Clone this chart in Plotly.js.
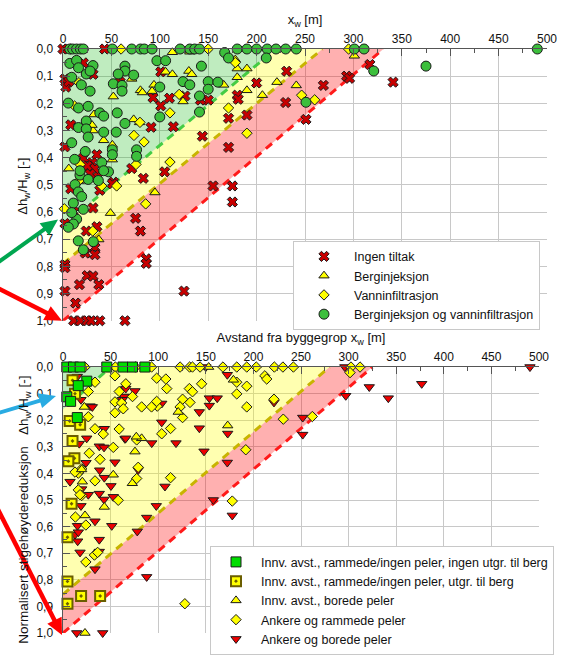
<!DOCTYPE html>
<html><head><meta charset="utf-8">
<script src="https://cdn.plot.ly/plotly-3.0.1.min.js"></script>
<style>html,body{margin:0;padding:0;background:#fff}#chart{width:565px;height:659px}</style>
</head><body><div id="chart"></div>
<script>
// ---------- TOP CHART DATA ----------
const topNoneX = [0,5,43,21,31,2,4,3,6,59,101,110,101,93,126,150,142,180,181,190,171,144,171,200,231,230,114,91,8,269,251,293,296,317,341,2,35,30,36,71,83,105,52,21,26,38,8,51,155,175,175,31,11,2,24,35,75,80,33,33,23,86,86,2,2,25,31,17,37,2,125,13,11,18,25,29,38,64,25,33,28];
const topNoneY = [0,0,0,0.051,0.093,0.11,0.125,0.14,0.12,0.122,0.084,0.181,0.209,0.179,0.173,0.188,0.188,0.17,0.185,0.243,0.255,0.321,0.362,0.125,0.082,0.197,0.286,0.288,0.279,0.134,0.259,0.1,0.108,0.057,0.122,0.36,0.389,0.419,0.454,0.44,0.476,0.452,0.49,0.401,0.431,0.52,0.514,0.496,0.504,0.504,0.563,0.585,0.599,0.642,0.67,0.654,0.623,0.67,0.731,0.757,0.751,0.772,0.789,0.793,0.805,0.834,0.836,0.867,0.867,0.891,0.891,0.935,1,1,1,1,1,1,0.43,0.44,0.46];

const topBergX = [113,131,106,113,130,133,178,180,190,180,166,221,241,206,190,124,71,80,82,94,92,52,73,79,32,31,42,51,6,51,301,95,49,37,17,30];
const topBergY = [0.012,0.01,0.084,0.093,0.081,0.093,0.039,0.072,0.072,0.104,0.132,0.122,0.134,0.17,0.152,0.193,0.11,0.152,0.16,0.132,0.155,0.175,0.259,0.27,0.241,0.3,0.336,0.353,0.44,0.407,0.025,0.528,0.604,0.701,0.486,0.28];

const topVannX = [60,150,295,16.5,12,110.5,171,190,83.7,73.3,110.5,120,246.5,260,1.4,17.6,40,55.4,75.4,85.4,30.7,16.8,79.5,178];
const topVannY = [0,0,0,0.124,0.21,0.235,0.217,0.31,0.342,0.318,0.416,0.167,0.17,0.187,0.588,0.425,0.504,0.504,0.425,0.57,0.67,0.484,0.27,0.05];

const topBothX = [7,10,14,18,21,51,71,80,84,92,121,131,136,141,180,190,200,211,220,230,241,301,311,490,
  7,14,16,24,31,9,64,64,57,73,52,61,61,97,106,100,19,28,5.5,16,26,38,42,56,24,16,24,42,55,64,
  26,100,9,23,51,51,76,76,40,17.5,26,36.5,47,42,12,17.6,12.4,15.8,19.3,10.7,21,14.1,10.7,5.5,15.8,31.3,21,9,
  143,124,131,150,160,150,141,141,167,171,210,321,375,251,28];
const topBothY = [0,0,0,0,0,0,0,0,0,0,0,0,0,0,0,0,0,0,0,0,0,0,0,0,
  0.053,0.042,0.069,0.092,0.061,0.104,0.063,0.081,0.092,0.096,0.128,0.134,0.155,0.043,0.043,0.14,0.132,0.155,0.199,0.217,0.211,0.235,0.247,0.235,0.265,0.289,0.294,0.306,0.306,0.274,
  0.324,0.25,0.345,0.377,0.371,0.389,0.371,0.395,0.418,0.464,0.48,0.484,0.452,0.448,0.406,0.448,0.499,0.526,0.543,0.567,0.59,0.626,0.644,0.656,0.706,0.709,0.739,0.602,
  0.063,0.12,0.132,0.12,0.122,0.148,0.173,0.232,0.013,0.033,0.033,0.081,0.063,0.196,0.081];

// ---------- BOTTOM CHART DATA ----------
const botGreenX = [4,11,18,46,63,73,86,25,16,4,8,15];
const botGreenY = [0,0,0,0,0,0,0,0.053,0.07,0.112,0.129,0.19];

const botOliveX = [10,12.6,7,18,10,12,5.6,9,4.7,4.7,19,39,4.7];
const botOliveY = [0.05,0.1,0.203,0.217,0.278,0.343,0.354,0.514,0.64,0.806,0.861,0.861,0.89];

const botBoredX = [153,179,173,75.6,22.4,19.6,82.6,77,20.3,52.8,72.8,43.4,23.1,23.1,121];
const botBoredY = [0,0.048,0.22,0.318,0.15,0.385,0.268,0.262,0.431,0.405,0.437,0.526,0.558,1.0,0.169];

const botAnkRamX = [23,55,76,93,123,133,136,144,168,182.5,193,203,222,231,242,302.5,312,
  54.6,98.4,108,66,33.6,26.6,59,73,109,132.7,136,145.6,182.5,193,182.5,212,214,221.6,193,231.4,
  192,125.6,133.4,123,125.6,99,82.6,93,54.6,61.6,63.3,54.6,26.6,33.6,42.3,59,103.7,113,77.4,52.8,
  27.6,38.9,16.1,19.6,12.6,79,113,77.4,16.1,19.6,33.6,58,13,24,33,36.4,24,128,177.8,261.9,301.5,17.9,98.4];
const botAnkRamY = [0,0,0,0,0,0,0,0,0,0,0,0,0,0,0,0,0,
  0.033,0.042,0.045,0.063,0.057,0.092,0.092,0.111,0.081,0.081,0.093,0.063,0.057,0.072,0.101,0.033,0.045,0.121,0.15,0.196,
  0.311,0.121,0.133,0.15,0.19,0.147,0.15,0.15,0.131,0.135,0.157,0.172,0.187,0.232,0.252,0.233,0.251,0.231,0.274,0.302,
  0.324,0.347,0.399,0.383,0.395,0.377,0.416,0.419,0.462,0.483,0.428,0.501,0.564,0.594,0.707,0.697,0.733,0.89,0.504,0.186,0.021,0.48,0.129];

const botAnkBorX = [15,150,172.6,296,490.5,64,75.6,103.7,153.7,162,153.7,143.2,221.6,103.7,143.2,173,148.1,172.6,65.1,93.2,
  118.7,38.1,43.1,17.1,54.6,38.5,24.2,7.4,28.4,18.9,30.8,65.9,62.3,43.4,24.9,65.9,43.4,79,50.4,107.1,
  19.6,26.6,38.1,43.1,52.8,18.9,33.6,51.2,15.2,12.6,15.4,38.1,17.9,38.1,33.6,87.9,98,87.9,78,157.9,
  177.8,14.4,41.7,321.7,376.8,297,341.7,251.8,251.8,16.1];
const botAnkBorY = [0.036,0,0.029,0,0,0.111,0.09,0.137,0.117,0.117,0.145,0.169,0.133,0.208,0.23,0.25,0.317,0.359,0.27,0.286,
  0.286,0.298,0.302,0.288,0.358,0.388,0.36,0.431,0.147,0.123,0.15,0.081,0.123,0.232,0.268,0.268,0.416,0.387,0.447,0.449,
  0.459,0.48,0.476,0.498,0.488,0.522,0.58,0.597,0.597,0.63,0.655,0.649,0.697,0.694,0.76,0.789,0.522,0.566,0.618,0.5,
  0.558,1.0,1.0,0.075,0.063,0.108,0.117,0.19,0.254,0.621];

// zone boundaries: x-intercept (at y=0) and y-intercept (at x=0): green, yellow, red
const topZoneXInt = [220, 268, 331];
const topZoneYInt = [0.65, 0.79, 1.0];
const botZoneXInt = [50, 280, 325];
const botZoneYInt = [0.16, 0.855, 1.0];
const topGreenDashY = [0.05, 0.56];
const botGreenDashY = [0.02, 0.15];

const FONT = 'Liberation Sans, Arial, sans-serif';

function zoneTraces(xi, yi, xa, ya, dashY) {
  const fills = ['rgba(0,180,0,0.25)', 'rgba(255,255,0,0.31)', 'rgba(255,0,0,0.31)'];
  const lines = ['#44cc44', '#c8b400', '#ff1a1a'];
  const tr = [];
  tr.push({x:[0, xi[0], 0, 0], y:[0, 0, yi[0], 0], xaxis:xa, yaxis:ya, mode:'none', fill:'toself', fillcolor:fills[0], showlegend:false, hoverinfo:'skip'});
  tr.push({x:[xi[0], xi[1], 0, 0, xi[0]], y:[0, 0, yi[1], yi[0], 0], xaxis:xa, yaxis:ya, mode:'none', fill:'toself', fillcolor:fills[1], showlegend:false, hoverinfo:'skip'});
  tr.push({x:[xi[1], xi[2], 0, 0, xi[1]], y:[0, 0, yi[2], yi[1], 0], xaxis:xa, yaxis:ya, mode:'none', fill:'toself', fillcolor:fills[2], showlegend:false, hoverinfo:'skip'});
  const gx = dashY.map(v => xi[0] * (1 - v / yi[0]));
  tr.push({x:gx, y:dashY, xaxis:xa, yaxis:ya, mode:'lines', line:{color:lines[0], width:3, dash:'8px,6px'}, showlegend:false, hoverinfo:'skip'});
  for (let k = 1; k < 3; k++) {
    tr.push({x:[0, xi[k]], y:[yi[k], 0], xaxis:xa, yaxis:ya, mode:'lines', line:{color:lines[k], width:3, dash:'8px,6px'}, showlegend:false, hoverinfo:'skip'});
  }
  return tr;
}

const traces = [];
traces.push(...zoneTraces(topZoneXInt, topZoneYInt, 'x', 'y', topGreenDashY));
traces.push(...zoneTraces(botZoneXInt, botZoneYInt, 'x2', 'y2', botGreenDashY));

const mk = (sym, col, size, lw) => ({symbol:sym, color:col, size:size, line:{color:'#1a1a1a', width:lw}});

traces.push({name:'Ingen tiltak', x:topNoneX, y:topNoneY, xaxis:'x', yaxis:'y', mode:'markers', marker:mk('x', '#c80000', 9, 1), cliponaxis:false, legend:'legend'});
traces.push({name:'Berginjeksjon', x:topBergX, y:topBergY, xaxis:'x', yaxis:'y', mode:'markers', marker:mk('triangle-up', '#ffff00', 9, 1), cliponaxis:false, legend:'legend'});
traces.push({name:'Vanninfiltrasjon', x:topVannX, y:topVannY, xaxis:'x', yaxis:'y', mode:'markers', marker:mk('diamond', '#ffff00', 8, 1), cliponaxis:false, legend:'legend'});
traces.push({name:'Berginjeksjon og vanninfiltrasjon', x:topBothX, y:topBothY, xaxis:'x', yaxis:'y', mode:'markers', marker:mk('circle', '#3cbf3c', 10, 1), cliponaxis:false, legend:'legend'});

traces.push({name:'Ankere og borede peler', x:botAnkBorX, y:botAnkBorY, xaxis:'x2', yaxis:'y2', mode:'markers', marker:mk('triangle-down', '#ee0000', 9, 1), cliponaxis:false, legend:'legend2'});
traces.push({name:'Ankere og rammede peler', x:botAnkRamX, y:botAnkRamY, xaxis:'x2', yaxis:'y2', mode:'markers', marker:mk('diamond', '#ffff00', 8, 1), cliponaxis:false, legend:'legend2'});
traces.push({name:'Innv. avst., borede peler', x:botBoredX, y:botBoredY, xaxis:'x2', yaxis:'y2', mode:'markers', marker:mk('triangle-up', '#ffff00', 9, 1), cliponaxis:false, legend:'legend2'});
traces.push({name:'Innv. avst., rammede/ingen peler, utgr. til berg', x:botOliveX, y:botOliveY, xaxis:'x2', yaxis:'y2', mode:'markers', marker:{symbol:'square-dot', color:'#ffff00', size:10, line:{color:'#6b5e00', width:2}}, cliponaxis:false, legend:'legend2'});
traces.push({name:'Innv. avst., rammede/ingen peler, ingen utgr. til berg', x:botGreenX, y:botGreenY, xaxis:'x2', yaxis:'y2', mode:'markers', marker:mk('square', '#00dd00', 10, 1), cliponaxis:false, legend:'legend2'});

const xaxBase = {
  range:[0,500], side:'top', dtick:50, tick0:0, showgrid:true, gridcolor:'#c8c8c8', gridwidth:1,
  ticks:'inside', ticklen:7, tickcolor:'#555', showline:true, linecolor:'#555', linewidth:1.5, zeroline:false,
  minor:{ticks:'inside', ticklen:4, dtick:25, tick0:0, tickcolor:'#555', showgrid:false},
  tickfont:{family:FONT, size:12, color:'#111'}, fixedrange:true
};
const yaxBase = {
  range:[1,0], dtick:0.1, tick0:0, tickformat:'.1f', showgrid:true, gridcolor:'#c8c8c8', gridwidth:1,
  ticks:'inside', ticklen:7, tickcolor:'#555', showline:true, linecolor:'#555', linewidth:1.5, zeroline:false,
  minor:{ticks:'inside', ticklen:4, dtick:0.05, tick0:0, tickcolor:'#555', showgrid:false},
  tickfont:{family:FONT, size:12, color:'#111'}, ticklabelstandoff:6, fixedrange:true
};

const H = 606, W = 484, T = 49, L = 63;
const px = v => (v - L) / W;
const py = v => (T + H - v) / H;

// arrows in page pixels: [tailX, tailY, tipX, tipY, colour, width]
const arrows = [
  [-4, 272, 58, 226, '#00a650', 4],
  [-10, 293, 62, 331, '#ff0000', 4.5],
  [-6, 428, 56, 409, '#29abe2', 4],
  [-2, 527, 62, 657, '#ff0000', 4.5]
];
const shapes = [];
arrows.forEach(a => {
  const [tx, ty, hx, hy, col, w] = a;
  const dx = hx - tx, dy = hy - ty, len = Math.hypot(dx, dy);
  const ux = dx / len, uy = dy / len, nx = -uy, ny = ux;
  const hl = 17, hw = 8;
  const bx = hx - ux * hl, by = hy - uy * hl;
  shapes.push({type:'line', xref:'paper', yref:'paper', x0:px(tx), y0:py(ty), x1:px(bx + ux * 2), y1:py(by + uy * 2), line:{color:col, width:w}});
  const p1 = [bx + nx * hw, by + ny * hw], p2 = [bx - nx * hw, by - ny * hw];
  shapes.push({type:'path', xref:'paper', yref:'paper', path:`M ${px(hx)} ${py(hy)} L ${px(p1[0])} ${py(p1[1])} L ${px(p2[0])} ${py(p2[1])} Z`, fillcolor:col, line:{color:col, width:0}});
});

const layout = {
  width:565, height:659, margin:{l:63, r:18, t:49, b:4},
  paper_bgcolor:'#fff', plot_bgcolor:'#fff', separators:', ',
  font:{family:FONT, size:12, color:'#111'},
  xaxis:Object.assign({}, xaxBase, {domain:[0,1], anchor:'y', title:{text:'x<sub>w</sub> [m]', font:{family:FONT, size:13}, standoff:4}}),
  yaxis:Object.assign({}, yaxBase, {domain:[0.5347,1], anchor:'x'}),
  xaxis2:Object.assign({}, xaxBase, {domain:[0,0.9835], anchor:'y2', title:{text:'Avstand fra byggegrop x<sub>w</sub> [m]', font:{family:FONT, size:13}, standoff:4}}),
  yaxis2:Object.assign({}, yaxBase, {domain:[0,0.4554], anchor:'x2'}),
  showlegend:true,
  legend:{x:px(293), y:py(248), xanchor:'left', yanchor:'top', bgcolor:'#fff', bordercolor:'#c8c8c8', borderwidth:1,
    font:{family:FONT, size:12.5, color:'#111'}, itemwidth:50, traceorder:'normal'},
  legend2:{x:px(210), y:py(565), xanchor:'left', yanchor:'top', bgcolor:'#fff', bordercolor:'#c8c8c8', borderwidth:1,
    font:{family:FONT, size:12.5, color:'#111'}, itemwidth:40, traceorder:'reversed'},
  shapes:shapes,
  annotations:[
    {xref:'paper', yref:'paper', x:px(24), y:py(192), xanchor:'center', yanchor:'middle', text:'Δh<sub>w</sub>/H<sub>w</sub> [-]', showarrow:false, textangle:-90, font:{family:FONT, size:13}},
    {xref:'paper', yref:'paper', x:px(25), y:py(527), xanchor:'center', yanchor:'middle', text:'Normalisert stigehøydereduksjon   Δh<sub>w</sub>/H<sub>w</sub> [-]', showarrow:false, textangle:-90, font:{family:FONT, size:13.5}}
  ]
};

Plotly.newPlot('chart', traces, layout, {staticPlot:true, displayModeBar:false});
</script></body></html>
